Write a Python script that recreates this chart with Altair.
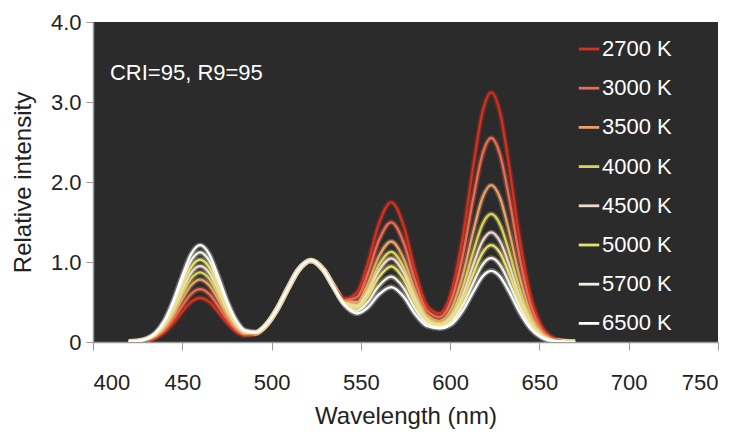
import altair as alt
import pandas as pd

wavelength = [420, 425, 430, 435, 440, 445, 450, 455, 460, 465, 470, 475, 480, 485,
              491, 497, 503, 509, 515,
              522, 529, 535, 541, 548, 554, 560,
              567, 574, 580, 587, 594, 601, 607, 613, 618,
              623, 628, 633, 639, 645, 651, 657, 663, 670]

cct_labels = ["2700 K", "3000 K", "3500 K", "4000 K", "4500 K", "5000 K", "5700 K", "6500 K"]
cct_colors = ["#d3301f", "#ec6a4f", "#e9a06a", "#d6d25a", "#f0d6cc", "#e6e36c", "#f3f1e2", "#ffffff"]

s2700 = [0.001, 0.005, 0.018, 0.052, 0.121, 0.235, 0.377, 0.501, 0.55, 0.501, 0.378, 0.239, 0.132, 0.083,
         0.103, 0.210, 0.406, 0.663, 0.900,
         1.02, 0.907, 0.699, 0.541, 0.626, 0.994, 1.472,
         1.746, 1.448, 0.924, 0.458, 0.358, 0.653, 1.306, 2.205, 2.861,
         3.12, 2.861, 2.205, 1.282, 0.581, 0.205, 0.056, 0.012, 0.002]
s3000 = [0.002, 0.006, 0.022, 0.062, 0.145, 0.282, 0.452, 0.601, 0.66, 0.601, 0.453, 0.286, 0.156, 0.093,
         0.105, 0.211, 0.406, 0.663, 0.900,
         1.02, 0.906, 0.694, 0.522, 0.563, 0.862, 1.264,
         1.496, 1.240, 0.791, 0.396, 0.312, 0.544, 1.072, 1.802, 2.338,
         2.55, 2.338, 1.802, 1.048, 0.475, 0.168, 0.046, 0.010, 0.001]
s3500 = [0.002, 0.008, 0.026, 0.073, 0.172, 0.333, 0.534, 0.710, 0.78, 0.710, 0.535, 0.337, 0.183, 0.104,
         0.109, 0.211, 0.406, 0.663, 0.900,
         1.02, 0.905, 0.689, 0.503, 0.501, 0.735, 1.065,
         1.256, 1.040, 0.663, 0.338, 0.265, 0.431, 0.829, 1.385, 1.797,
         1.96, 1.797, 1.385, 0.806, 0.365, 0.129, 0.035, 0.008, 0.001]
s4000 = [0.002, 0.008, 0.029, 0.082, 0.192, 0.371, 0.596, 0.792, 0.87, 0.792, 0.597, 0.375, 0.203, 0.113,
         0.111, 0.212, 0.406, 0.663, 0.900,
         1.02, 0.905, 0.686, 0.493, 0.468, 0.666, 0.957,
         1.126, 0.932, 0.594, 0.305, 0.237, 0.362, 0.681, 1.131, 1.467,
         1.60, 1.467, 1.131, 0.658, 0.298, 0.105, 0.029, 0.006, 0.001]
s4500 = [0.002, 0.009, 0.032, 0.089, 0.209, 0.406, 0.651, 0.865, 0.95, 0.865, 0.652, 0.410, 0.220, 0.120,
         0.113, 0.212, 0.406, 0.663, 0.900,
         1.02, 0.904, 0.685, 0.487, 0.448, 0.624, 0.890,
         1.046, 0.865, 0.551, 0.284, 0.220, 0.318, 0.585, 0.968, 1.256,
         1.37, 1.256, 0.968, 0.563, 0.255, 0.090, 0.025, 0.005, 0.001]
s5000 = [0.002, 0.010, 0.034, 0.097, 0.227, 0.440, 0.706, 0.937, 1.03, 0.937, 0.707, 0.444, 0.238, 0.128,
         0.115, 0.213, 0.407, 0.663, 0.900,
         1.02, 0.904, 0.683, 0.479, 0.422, 0.571, 0.807,
         0.946, 0.782, 0.498, 0.260, 0.205, 0.287, 0.519, 0.855, 1.110,
         1.21, 1.110, 0.855, 0.497, 0.225, 0.079, 0.022, 0.005, 0.001]
s5700 = [0.003, 0.011, 0.037, 0.105, 0.247, 0.478, 0.767, 1.019, 1.12, 1.019, 0.768, 0.482, 0.258, 0.136,
         0.118, 0.213, 0.407, 0.663, 0.900,
         1.02, 0.903, 0.680, 0.469, 0.389, 0.503, 0.699,
         0.816, 0.674, 0.430, 0.231, 0.188, 0.256, 0.454, 0.742, 0.963,
         1.05, 0.963, 0.742, 0.432, 0.196, 0.069, 0.019, 0.004, 0.001]
s6500 = [0.003, 0.012, 0.040, 0.114, 0.267, 0.517, 0.829, 1.101, 1.21, 1.101, 0.830, 0.521, 0.278, 0.145,
         0.120, 0.214, 0.407, 0.663, 0.900,
         1.02, 0.903, 0.677, 0.459, 0.356, 0.434, 0.591,
         0.686, 0.566, 0.360, 0.200, 0.171, 0.225, 0.388, 0.629, 0.816,
         0.89, 0.816, 0.629, 0.366, 0.166, 0.058, 0.016, 0.003, 0.000]

series = [s2700, s3000, s3500, s4000, s4500, s5000, s5700, s6500]

x_ticks = [400, 450, 500, 550, 600, 650, 700, 750]
y_ticks = [0, 1, 2, 3, 4]

annotation = pd.DataFrame({"x": [409.5], "y": [3.36], "text": ["CRI=95, R9=95"]})

rows = []
for lab, vals in zip(cct_labels, series):
    for w, v in zip(wavelength, vals):
        rows.append({"Wavelength": w, "Intensity": v, "CCT": lab})
df = pd.DataFrame(rows)

FONT = "Liberation Sans"

xenc = alt.X("Wavelength:Q",
             scale=alt.Scale(domain=[400, 750], nice=False, zero=False),
             axis=alt.Axis(values=x_ticks, title="Wavelength (nm)", labelPadding=22,
                           titlePadding=11, tickSize=8))
yenc = alt.Y("Intensity:Q",
             scale=alt.Scale(domain=[0, 4], nice=False),
             axis=alt.Axis(values=y_ticks, title="Relative intensity",
                           labelExpr="datum.value == 0 ? '0' : format(datum.value, '.1f')",
                           labelPadding=5, titlePadding=15, tickSize=7))
color = alt.Color("CCT:N", scale=alt.Scale(domain=cct_labels, range=cct_colors),
                  legend=alt.Legend(title=None, orient="none", legendX=484, legendY=15,
                                    symbolType="stroke", symbolSize=420, symbolStrokeWidth=2.8,
                                    symbolOpacity=1,
                                    labelFontSize=22, labelColor="white", labelFont=FONT,
                                    labelOffset=1, rowPadding=16.2, padding=0))

glow = alt.Chart(df).mark_line(interpolate="monotone", strokeWidth=5.5, opacity=0.3, clip=True).encode(
    x=xenc, y=yenc, color=color)
lines = alt.Chart(df).mark_line(interpolate="monotone", strokeWidth=2.3, clip=True).encode(
    x=xenc, y=yenc, color=color)

text = alt.Chart(annotation).mark_text(align="left", baseline="middle", color="white",
                                       font=FONT, fontSize=22).encode(
    x="x:Q", y="y:Q", text="text:N")

chart = alt.layer(glow, lines, text).properties(
    width=625, height=320,
    autosize=alt.AutoSizeParams(type="none"),
    padding={"left": 85, "top": 14, "right": 11, "bottom": 92},
).configure_view(
    fill="#2b2b2b", stroke=None
).configure_axis(
    labelFont=FONT, titleFont=FONT, labelFontSize=22, titleFontSize=24,
    labelColor="#222222", titleColor="#222222", titleFontWeight="normal",
    domainColor="#9a9a9a", tickColor="#9a9a9a", grid=False, domainWidth=1.5
)

chart.save("out.html", embed_options={"renderer": "svg", "actions": False})
